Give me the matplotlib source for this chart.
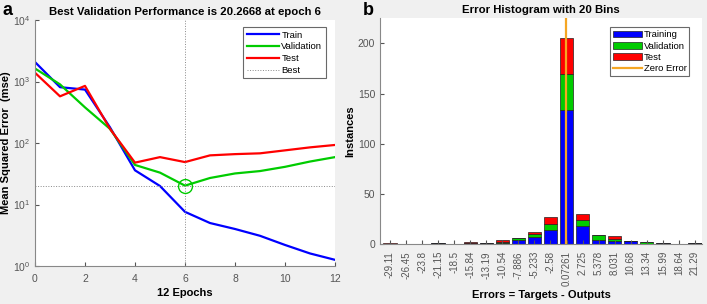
import matplotlib
matplotlib.use("Agg")
import matplotlib.pyplot as plt
import numpy as np

plt.rcParams['font.family'] = ['Liberation Sans', 'DejaVu Sans']

# ---- Panel a data ----
epochs = [0, 1, 2, 3, 4, 5, 6, 7, 8, 9, 10, 11, 12]
train_mse = [2075, 810, 740, 180, 36, 20, 7.6, 5.0, 4.0, 3.1, 2.2, 1.6, 1.26]
val_mse = [1630, 900, 380, 170, 44, 33, 20.2668, 27, 32, 35, 41, 50, 59]
test_mse = [1390, 575, 850, 170, 48, 59, 49, 63, 66, 68, 76, 85, 93]
best_epoch = 6
best_perf = 20.2668

# ---- Panel b data ----
bin_labels = ['-29.11', '-26.45', '-23.8', '-21.15', '-18.5', '-15.84', '-13.19',
              '-10.54', '-7.886', '-5.233', '-2.58', '0.07261', '2.725', '5.378',
              '8.031', '10.68', '13.34', '15.99', '18.64', '21.29']
bin_centers = [float(s) for s in bin_labels]
hist_train = [0, 0, 0, 1, 0, 1, 1, 1, 4, 7, 14, 134, 18, 4, 3, 3, 0, 1, 0, 1]
hist_val = [0, 0, 0, 0, 0, 0, 0, 1, 2, 3, 6, 35, 6, 5, 2, 0, 2, 0, 0, 0]
hist_test = [1, 0, 0, 0, 0, 1, 0, 2, 0, 2, 7, 36, 6, 0, 3, 0, 0, 0, 0, 0]

BG = '#f0f0f0'
BLUE = '#0000ff'
GREEN = '#00cc00'
RED = '#ff0000'
ORANGE = '#f5a623'
AXC = '#555555'

fig = plt.figure(figsize=(7.07, 3.04), dpi=100, facecolor=BG)

# ---------------- Panel a ----------------
ax1 = fig.add_axes([0.0495, 0.125, 0.4243, 0.809])
ax1.set_facecolor('white')
ax1.semilogy(epochs, train_mse, color=BLUE, lw=1.6, label='Train')
ax1.semilogy(epochs, val_mse, color=GREEN, lw=1.6, label='Validation')
ax1.semilogy(epochs, test_mse, color=RED, lw=1.6, label='Test')
ax1.axvline(best_epoch, color='#888888', lw=0.7, ls=':', label='Best')
ax1.axhline(best_perf, color='#888888', lw=0.7, ls=':')
ax1.plot([best_epoch], [best_perf], 'o', mfc='none', mec=GREEN, ms=10, mew=1.0)
ax1.set_xlim(0, 12)
ax1.set_ylim(1, 1e4)
ax1.set_xticks([0, 2, 4, 6, 8, 10, 12])
ax1.set_yticks([1, 10, 100, 1000, 10000])
ax1.minorticks_off()
ax1.tick_params(direction='in', labelsize=7.5, colors=AXC, length=3)
ax1.tick_params(axis='x', pad=6)
for sp in ['top', 'right']:
    ax1.spines[sp].set_visible(False)
for sp in ['left', 'bottom']:
    ax1.spines[sp].set_color('#888888')
ax1.set_title('Best Validation Performance is 20.2668 at epoch 6',
              fontsize=8.2, fontweight='bold', pad=4)
ax1.set_xlabel('12 Epochs', fontsize=8, fontweight='bold', labelpad=3)
ax1.set_ylabel('Mean Squared Error  (mse)', fontsize=8, fontweight='bold', labelpad=1)
leg1 = ax1.legend(loc='upper right', fontsize=6.8, frameon=True, fancybox=False,
                  edgecolor='#444444', handlelength=3.4, borderpad=0.35,
                  labelspacing=0.3, handletextpad=0.3, bbox_to_anchor=(0.985, 0.99))
leg1.get_frame().set_linewidth(0.8)

# ---------------- Panel b ----------------
ax2 = fig.add_axes([0.5375, 0.197, 0.4554, 0.743])
ax2.set_facecolor('white')
bw = bin_centers[1] - bin_centers[0]
width = 0.83 * bw
tr = np.array(hist_train)
va = np.array(hist_val)
te = np.array(hist_test)
b1 = ax2.bar(bin_centers, tr, width=width, color=BLUE, edgecolor='#222222', lw=0.5, label='Training')
b2 = ax2.bar(bin_centers, va, width=width, bottom=tr, color=GREEN, edgecolor='#222222', lw=0.5, label='Validation')
b3 = ax2.bar(bin_centers, te, width=width, bottom=tr + va, color=RED, edgecolor='#222222', lw=0.5, label='Test')
zl = ax2.axvline(0, color=ORANGE, lw=1.6, label='Zero Error')
ax2.set_xlim(bin_centers[0] - 0.62 * bw, bin_centers[-1] + 0.44 * bw)
ax2.set_ylim(0, 225)
ax2.set_yticks([0, 50, 100, 150, 200])
ax2.set_xticks(bin_centers)
ax2.set_xticklabels(bin_labels, rotation=90)
ax2.tick_params(direction='in', labelsize=7, colors=AXC, length=3)
ax2.tick_params(axis='x', pad=5)
ax2.tick_params(axis='y', labelsize=7.5)
for sp in ['top', 'right']:
    ax2.spines[sp].set_visible(False)
for sp in ['left', 'bottom']:
    ax2.spines[sp].set_color('#888888')
ax2.set_title('Error Histogram with 20 Bins', fontsize=8.2, fontweight='bold', pad=4)
ax2.set_xlabel('Errors = Targets - Outputs', fontsize=8, fontweight='bold', labelpad=3)
ax2.set_ylabel('Instances', fontsize=8, fontweight='bold', labelpad=2)
leg2 = ax2.legend([b1, b2, b3, zl], ['Training', 'Validation', 'Test', 'Zero Error'],
                  loc='upper right', fontsize=6.8, frameon=True, fancybox=False,
                  edgecolor='#444444', handlelength=3.0, borderpad=0.3,
                  labelspacing=0.25, handletextpad=0.2, bbox_to_anchor=(0.975, 0.98))
leg2.get_frame().set_linewidth(0.8)

fig.text(0.004, 0.995, 'a', fontsize=13, fontweight='bold', va='top')
fig.text(0.513, 0.995, 'b', fontsize=13, fontweight='bold', va='top')

fig.savefig('out.png', dpi=100, facecolor=BG)
